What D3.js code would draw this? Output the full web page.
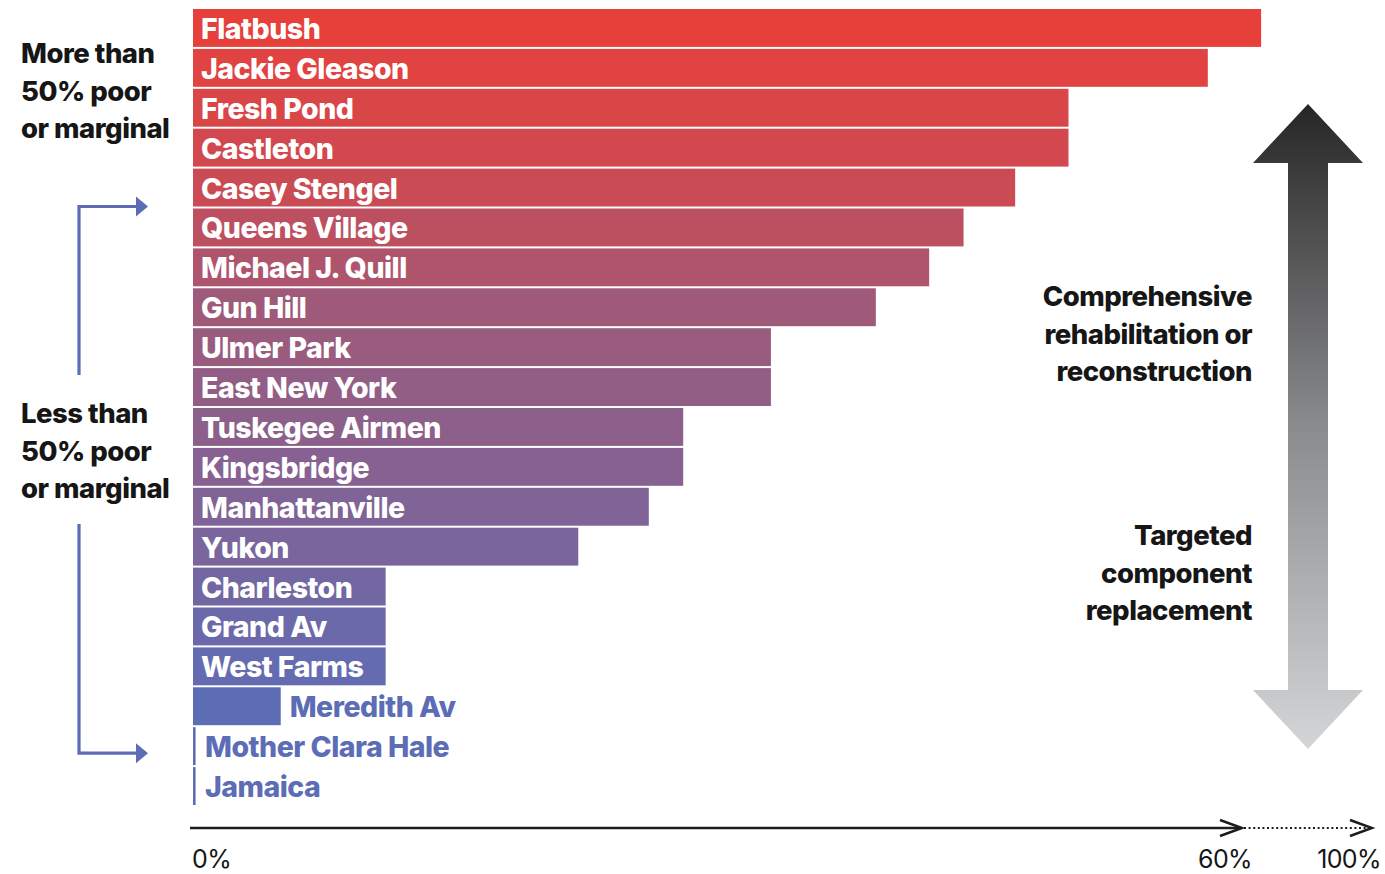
<!DOCTYPE html>
<html>
<head>
<meta charset="utf-8">
<script src="https://cdn.jsdelivr.net/npm/d3@7"></script>
<style>
  body { margin: 0; background: #fff; }
  text { font-family: Inter, "Noto Sans", sans-serif; }
</style>
</head>
<body>
<div id="chart"></div>
<script>
const width = 1385, height = 874

// share of components in poor or marginal condition (%)
const houses = ["Flatbush", "Jackie Gleason", "Fresh Pond", "Castleton", "Casey Stengel",
  "Queens Village", "Michael J. Quill", "Gun Hill", "Ulmer Park", "East New York",
  "Tuskegee Airmen", "Kingsbridge", "Manhattanville", "Yukon", "Charleston",
  "Grand Av", "West Farms", "Meredith Av", "Mother Clara Hale", "Jamaica"]
const shares = [62.1, 59.0, 50.9, 50.9, 47.8, 44.8, 42.8, 39.7, 33.6, 33.6,
  28.5, 28.5, 26.5, 22.4, 11.2, 11.2, 11.2, 5.1, 0.15, 0.15]
const tickValues = [0, 60]
const tickLabels = ["0%", "60%"]
const farLabel = "100%"
const topNote = ["More than", "50% poor", "or marginal"]
const bottomNote = ["Less than", "50% poor", "or marginal"]
const upNote = ["Comprehensive", "rehabilitation or", "reconstruction"]
const downNote = ["Targeted", "component", "replacement"]

const margin = {top: 9, left: 193}

const x = d3.scaleLinear().domain([0, 60]).range([margin.left, 1225])
const y = d3.scaleBand().domain(houses).range([margin.top, 805]).paddingInner(0.05)

// red -> purple -> blue, top to bottom
const color = d3.scaleLinear()
  .domain([0, 4, 7, 13, 17, 19])
  .range(["#e7403a", "#cb4b54", "#9f5a79", "#7a659d", "#5c6db6", "#5c6db6"])

const svg = d3.select("#chart").append("svg")
  .attr("width", width)
  .attr("height", height)

const defs = svg.append("defs")
const grad = defs.append("linearGradient")
  .attr("id", "fade")
  .attr("x1", 0).attr("x2", 0).attr("y1", 0).attr("y2", 1)
grad.append("stop").attr("offset", "0%").attr("stop-color", "#262626")
grad.append("stop").attr("offset", "50%").attr("stop-color", "#8a8b8d")
grad.append("stop").attr("offset", "100%").attr("stop-color", "#d4d5d7")

// bars
const bar = svg.selectAll(".bar")
  .data(houses)
  .join("g")
  .attr("class", "bar")

bar.append("rect")
  .attr("x", x(0))
  .attr("y", d => y(d))
  .attr("height", y.bandwidth())
  .attr("width", (d, i) => Math.max(2.5, x(shares[i]) - x(0)))
  .attr("fill", (d, i) => color(i))

// labels: white inside if the bar is long enough, otherwise blue after it
bar.append("text")
  .attr("x", (d, i) => shares[i] > 8 ? x(0) + 8 : Math.max(x(shares[i]), x(0) + 3) + 9)
  .attr("y", d => y(d) + y.bandwidth() / 2 + 11)
  .attr("fill", (d, i) => shares[i] > 8 ? "#fff" : "#5c6db6")
  .style("font-size", "28.5px")
  .style("font-weight", 800)
  .style("letter-spacing", "-0.5px")
  .text(d => d)

// side notes
function note(lines, x0, y0, anchor, size) {
  svg.append("text")
    .attr("text-anchor", anchor)
    .attr("fill", "#161616")
    .style("font-size", size + "px")
    .style("font-weight", 800)
    .style("letter-spacing", "-0.5px")
    .selectAll("tspan")
    .data(lines)
    .join("tspan")
    .attr("x", x0)
    .attr("y", (d, i) => y0 + i * 37.5)
    .text(d => d)
}
note(topNote, 21, 63, "start", 27.5)
note(bottomNote, 21, 423, "start", 27.5)
note(upNote, 1252, 306, "end", 27.5)
note(downNote, 1252, 545, "end", 27.5)

// bracket for the "less than" group
const blue = "#5c6db6"
const yTop = y("Queens Village") - 2
const yBot = y("Mother Clara Hale") + y.bandwidth() / 2 + 7
svg.append("path")
  .attr("d", `M138,${yTop} H79 V375`)
  .attr("fill", "none").attr("stroke", blue).attr("stroke-width", 3.2)
svg.append("path")
  .attr("d", `M79,524 V${yBot} H138`)
  .attr("fill", "none").attr("stroke", blue).attr("stroke-width", 3.2)
svg.selectAll(".tip")
  .data([yTop, yBot])
  .join("path")
  .attr("class", "tip")
  .attr("d", d => `M136,${d - 10} L148,${d} L136,${d + 10} Z`)
  .attr("fill", blue)

// big double arrow on the right
svg.append("path")
  .attr("d", "M1308,104 L1363,163 L1328,163 L1328,690 L1363,690 L1308,749 L1253,690 L1288,690 L1288,163 L1253,163 Z")
  .attr("fill", "url(#fade)")

// x axis
const axisY = 828
const axis = svg.append("g")
axis.append("line")
  .attr("x1", 190).attr("x2", 1241)
  .attr("y1", axisY).attr("y2", axisY)
  .attr("stroke", "#1c1c1c").attr("stroke-width", 2.6)
axis.append("line")
  .attr("x1", 1244).attr("x2", 1370)
  .attr("y1", axisY).attr("y2", axisY)
  .attr("stroke", "#1c1c1c").attr("stroke-width", 2.2)
  .attr("stroke-dasharray", "2,2.6")
axis.selectAll(".chev")
  .data([1242, 1372])
  .join("path")
  .attr("class", "chev")
  .attr("d", d => `M${d - 22},${axisY - 8} L${d},${axisY} L${d - 22},${axisY + 8}`)
  .attr("fill", "none").attr("stroke", "#1c1c1c").attr("stroke-width", 2.4)

axis.selectAll(".tick")
  .data(tickValues)
  .join("text")
  .attr("class", "tick")
  .attr("x", d => d === 0 ? x(d) - 1 : x(d))
  .attr("y", 868)
  .attr("text-anchor", d => d === 0 ? "start" : "middle")
  .attr("fill", "#161616")
  .style("font-size", "25px")
  .style("letter-spacing", "-0.6px")
  .text((d, i) => tickLabels[i])
axis.append("text")
  .attr("x", 1381)
  .attr("y", 868)
  .attr("text-anchor", "end")
  .attr("fill", "#161616")
  .style("font-size", "25px")
  .style("letter-spacing", "-0.6px")
  .text(farLabel)
</script>
</body>
</html>
